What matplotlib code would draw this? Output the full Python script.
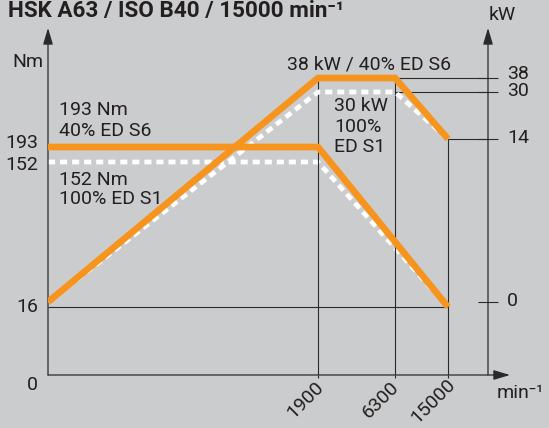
import numpy as np
import matplotlib
matplotlib.use('Agg')
import matplotlib.pyplot as plt

plt.rcParams['font.family'] = ['Roboto', 'DejaVu Sans']

# Daten
rpm_torque = [0, 1900, 15000]
torque_s6 = [193, 193, 16]
torque_s1 = [152, 152, 16]
rpm_power = [0, 1900, 6300, 15000]
power_s6 = [0, 38, 38, 14]
power_s1 = [0, 30, 30, 14]
rpm_ticks = [1900, 6300, 15000]
torque_ticks = [0, 16, 152, 193]
power_ticks = [0, 14, 30, 38]
rpm_labels = ['1900', '6300', '15000']

BG = '#cbcccd'
ORANGE = '#f7941d'
LINE = '#2a2a2a'
TXT = '#231f20'
FS = 14

# schematic axes (not to scale): value -> pixel knots
x_knots = ([0, 1900, 6300, 15000, 18000, 20000], [0, 270, 347, 400, 440, 462])
t_knots = ([0, 16, 152, 193, 300], [0, 68, 213, 228, 347])
p_knots = ([-10, 0, 14, 30, 38, 60], [0, 73, 236, 283, 297, 347])
R_AXIS = 440 / 462


def piecewise(knots):
    v, p = knots
    return (lambda a: np.interp(a, v, p)), (lambda a: np.interp(a, p, v))


fig = plt.figure(figsize=(5.49, 4.28), dpi=100, facecolor=BG)
ax = fig.add_axes([48 / 549, 53 / 428, 462 / 549, 347 / 428])
ax.set_facecolor('none')
ax.set_xscale('function', functions=piecewise(x_knots))
ax.set_yscale('function', functions=piecewise(t_knots))
ax.set_xlim(0, 20000)
ax.set_ylim(0, 300)

ax2 = ax.twinx()
ax2.set_yscale('function', functions=piecewise(p_knots))
ax2.set_ylim(-10, 60)

for a in (ax, ax2):
    for s in a.spines.values():
        s.set_visible(False)
    a.minorticks_off()
ax2.spines['right'].set_position(('axes', R_AXIS))

ax.set_yticks([])
ax.set_xticks(rpm_ticks)
ax.tick_params(axis='x', direction='out', length=2, width=0.8, color=LINE, labelbottom=False)
ax2.set_yticks(power_ticks)
ax2.tick_params(axis='y', direction='inout', length=14.4, width=0.8, color=LINE, labelright=False)

# Achsen mit Pfeil
arrow = dict(arrowstyle='-|>,head_length=1.0,head_width=0.3', mutation_scale=10,
             lw=0.9, color=LINE, shrinkA=0, shrinkB=0)
ax.annotate('', xy=(0, 1), xytext=(0, 0), xycoords='axes fraction', arrowprops=arrow)
ax.annotate('', xy=(1, 0), xytext=(0, 0), xycoords='axes fraction', arrowprops=arrow)
ax.annotate('', xy=(R_AXIS, 1), xytext=(R_AXIS, 0), xycoords='axes fraction', arrowprops=arrow)

# Hilfslinien
ax.hlines(torque_s6[-1], 0, 15000, color=LINE, lw=0.8, zorder=1)
ax2.vlines([1900, 6300], -10, power_s6[1], color=LINE, lw=0.8, zorder=1)
ax2.vlines(15000, -10, power_s6[-1], color=LINE, lw=0.8, zorder=1)
ax2.hlines([power_s6[1], power_s1[1]], 6300, 18000, color=LINE, lw=0.8, zorder=1)
ax2.hlines(power_s6[-1], 15000, 18000, color=LINE, lw=0.8, zorder=1)

# Kennlinien
dash = dict(color='white', lw=3.4, dashes=(1.5, 1.05), dash_capstyle='butt', zorder=2)
ax.plot(rpm_torque, torque_s1, **dash)
ax2.plot(rpm_power, power_s1, **dash)
solid = dict(color=ORANGE, lw=4.8, solid_capstyle='butt', solid_joinstyle='miter', zorder=3)
ax2.plot(rpm_torque, torque_s6, transform=ax.transData, **solid)
ax2.plot(rpm_power, power_s6, **solid)


def label(x, y, s, **kw):
    kw.setdefault('fontsize', FS)
    kw.setdefault('va', 'center')
    fig.text(x / 549, 1 - y / 428, s, color=TXT, **kw)


label(8, 16.5, 'HSK A63 / ISO B40 / 15000 min⁻¹', fontweight='bold', fontsize=16.2, va='baseline')
label(43, 62, 'Nm', ha='right')
label(502.5, 15.5, 'kW', ha='center')

for v, y in zip(torque_ticks, [385, 307.5, 164.5, 143]):
    label(38, y, str(v), ha='right')
for v, y in zip(power_ticks, [301.5, 138, 90.5, 74]):
    label(507, y, str(v), ha='left')
for s, (x, y) in zip(rpm_labels, [(305.5, 400), (380.5, 400), (433, 401)]):
    label(x, y, s, ha='center', rotation=45, rotation_mode='anchor')
label(497, 393, 'min⁻¹', ha='left')

label(59, 110, '193 Nm')
label(59, 131.5, '40% ED S6')
label(59, 180, '152 Nm')
label(59, 199.5, '100% ED S1')
label(287, 64.5, '38 kW / 40% ED S6')
label(334, 106, '30 kW')
label(334, 126.5, '100%')
label(334, 147.5, 'ED S1')

fig.savefig('out.png', dpi=100, facecolor=BG)
